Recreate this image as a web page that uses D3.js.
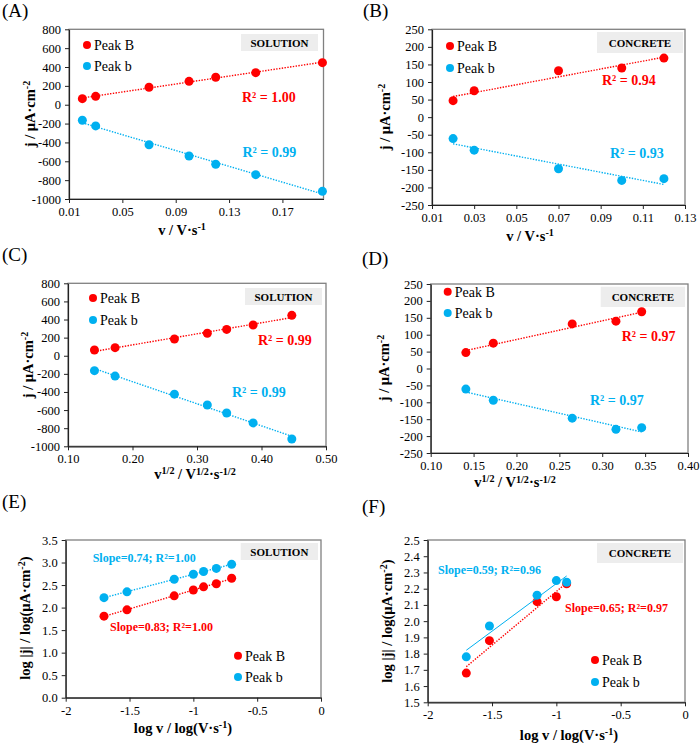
<!DOCTYPE html>
<html><head><meta charset="utf-8">
<script src="https://cdn.jsdelivr.net/npm/d3@7"></script>
<style>body{margin:0;background:#fff}svg{display:block}svg text{font-family:"Liberation Serif",serif}</style>
</head><body>
<svg id="c" width="700" height="743"></svg>
<script>
// ---------- DATA ----------
const scanRateSolution = [0.02, 0.03, 0.07, 0.10, 0.12, 0.15, 0.20];
const scanRateConcrete = [0.02, 0.03, 0.07, 0.10, 0.12];
const sqrtRateSolution = [0.141, 0.173, 0.265, 0.316, 0.346, 0.387, 0.447];
const sqrtRateConcrete = [0.141, 0.173, 0.265, 0.316, 0.346];
const logRateSolution = [-1.70, -1.52, -1.15, -1.00, -0.92, -0.82, -0.70];
const logRateConcrete = [-1.70, -1.52, -1.15, -1.00, -0.92];
const jSolutionPeakB = [64, 89, 185, 248, 291, 340, 446];
const jSolutionPeakb = [-165, -225, -424, -544, -632, -742, -919];
const jConcretePeakB = [47, 75, 132, 140, 168];
const jConcretePeakb = [-61, -94, -147, -180, -175];
const logJSolutionPeakB = [1.81, 1.95, 2.26, 2.39, 2.46, 2.53, 2.65];
const logJSolutionPeakb = [2.22, 2.35, 2.63, 2.74, 2.80, 2.87, 2.96];
const logJConcretePeakB = [1.68, 1.88, 2.12, 2.15, 2.23];
const logJConcretePeakb = [1.78, 1.97, 2.16, 2.25, 2.24];
const seriesNames = ["Peak B", "Peak b"];
const ticksA_x = [0.01, 0.05, 0.09, 0.13, 0.17];
const ticksB_x = [0.01, 0.03, 0.05, 0.07, 0.09, 0.11, 0.13];
const ticksC_x = [0.10, 0.20, 0.30, 0.40, 0.50];
const ticksD_x = [0.10, 0.15, 0.20, 0.25, 0.30, 0.35, 0.40];
const ticksEF_x = [-2, -1.5, -1, -0.5, 0];
const ticksSol_y = [-1000, -800, -600, -400, -200, 0, 200, 400, 600, 800];
const ticksCon_y = [-250, -200, -150, -100, -50, 0, 50, 100, 150, 200, 250];
const ticksE_y = [0, 0.5, 1, 1.5, 2, 2.5, 3, 3.5];
const ticksF_y = [1.5, 1.6, 1.7, 1.8, 1.9, 2.0, 2.1, 2.2, 2.3, 2.4, 2.5];

// ---------- STYLE ----------
const RED = "#FF0000", BLUE = "#00B0F0";
const FONT = "Liberation Serif";
const svg = d3.select("#c");

const hy = s => s.replace("\u2212", "-");
const fmtInt = v => hy(d3.format("d")(v));
const fmt1 = v => hy(d3.format(".1f")(v));
const fmt2 = v => hy(d3.format(".2f")(v));
const fmtG = v => hy(String(v));

function rich(sel, parts) {
  let prevSup = false;
  parts.forEach(([t, k]) => {
    const ts = sel.append("tspan").text(t);
    if (k === "s" && !prevSup) { ts.attr("dy", "-0.45em").attr("font-size", "70%"); prevSup = true; }
    else if (k === "s") { ts.attr("font-size", "70%"); }
    else if (prevSup) { ts.attr("dy", "0.32em"); prevSup = false; }
  });
}

function linreg(xs, ys) {
  const mx = d3.mean(xs), my = d3.mean(ys);
  let sxy = 0, sxx = 0;
  xs.forEach((x, i) => { sxy += (x - mx) * (ys[i] - my); sxx += (x - mx) ** 2; });
  const b = sxy / sxx;
  return { b, a: my - b * mx };
}

function panel(cfg) {
  const g = svg.append("g");
  const x = d3.scaleLinear().domain(cfg.xDomain).range([cfg.left, cfg.right]);
  const y = d3.scaleLinear().domain(cfg.yDomain).range([cfg.bottom, cfg.top]);

  g.append("text").attr("x", cfg.lab[0]).attr("y", cfg.lab[1]).attr("font-size", 19).text(cfg.label);

  g.append("rect").attr("x", cfg.left).attr("y", cfg.top)
    .attr("width", cfg.right - cfg.left).attr("height", cfg.bottom - cfg.top)
    .attr("fill", "none").attr("stroke", "#808080").attr("stroke-width", 1.3);

  const ax = g.append("g").attr("transform", `translate(0,${cfg.bottom})`)
    .call(d3.axisBottom(x).tickValues(cfg.xTicks).tickSize(4).tickSizeOuter(0).tickPadding(4).tickFormat(cfg.xFmt));
  const ay = g.append("g").attr("transform", `translate(${cfg.left},0)`)
    .call(d3.axisLeft(y).tickValues(cfg.yTicks).tickSize(4).tickSizeOuter(0).tickPadding(4).tickFormat(cfg.yFmt));
  [ax, ay].forEach(a => {
    a.attr("font-family", FONT);
    a.selectAll("path.domain").attr("stroke", "#222").attr("stroke-width", 1.2);
    a.selectAll(".tick line").attr("stroke", "#222");
    a.selectAll("text").attr("font-size", 12.5).attr("fill", "#000");
  });

  g.append("rect").attr("x", cfg.box[0]).attr("y", cfg.box[1]).attr("width", cfg.box[2]).attr("height", cfg.box[3])
    .attr("fill", "#EDEDED");
  g.append("text").attr("x", cfg.box[0] + cfg.box[2] / 2).attr("y", cfg.box[1] + cfg.box[3] / 2 + 4)
    .attr("text-anchor", "middle").attr("font-weight", "bold").attr("font-size", 11).text(cfg.boxText);

  const colors = [RED, BLUE];
  cfg.series.forEach((ys, si) => {
    const xs = cfg.xs;
    const r = linreg(xs, ys);
    const x0 = d3.min(xs), x1 = d3.max(xs);
    const ln = g.append("line")
      .attr("x1", x(x0)).attr("y1", y(r.a + r.b * x0))
      .attr("x2", x(x1)).attr("y2", y(r.a + r.b * x1))
      .attr("stroke", colors[si]).attr("stroke-width", 1.4);
    if (!(cfg.solidBlue && si === 1)) ln.attr("stroke-dasharray", "1.4,1.4");
    else ln.attr("stroke-width", 1);
    g.selectAll(null).data(xs.map((v, i) => [v, ys[i]])).enter().append("circle")
      .attr("cx", d => x(d[0])).attr("cy", d => y(d[1])).attr("r", 4.5).attr("fill", colors[si]);
    const an = cfg.ann[si];
    g.append("text").attr("x", an[0]).attr("y", an[1] + 5).attr("font-weight", "bold")
      .attr("font-size", an[3] || 14).attr("fill", colors[si]).text(an[2]);
  });

  seriesNames.forEach((n, i) => {
    const [lx, ly] = cfg.leg[i];
    g.append("circle").attr("cx", lx).attr("cy", ly).attr("r", 4).attr("fill", colors[i]);
    g.append("text").attr("x", lx + 7).attr("y", ly + 5).attr("font-size", 14).text(n);
  });

  const yt = g.append("text").attr("transform", `translate(${cfg.yTitle[0]},${cfg.yTitle[1]}) rotate(-90)`)
    .attr("text-anchor", "middle").attr("font-weight", "bold").attr("font-size", 14.5);
  rich(yt, cfg.yTitleParts);
  const xt = g.append("text").attr("x", cfg.xTitle[0]).attr("y", cfg.xTitle[1])
    .attr("text-anchor", "middle").attr("font-weight", "bold").attr("font-size", 14.5);
  rich(xt, cfg.xTitleParts);
}

const jTitle = [["j / \u03BCA\u00B7cm", "n"], ["-2", "s"]];
const logJTitle = [["log |j| / log(\u03BCA\u00B7cm", "n"], ["-2", "s"], [")", "n"]];
const vTitle = [["v / V\u00B7s", "n"], ["-1", "s"]];
const sqrtTitle = [["v", "n"], ["1/2", "s"], [" / V", "n"], ["1/2", "s"], ["\u00B7s", "n"], ["-1/2", "s"]];
const logVTitle = [["log v / log(V\u00B7s", "n"], ["-1", "s"], [")", "n"]];

panel({ label: "(A)", lab: [2, 17], left: 69, right: 323.5, top: 29.3, bottom: 199,
  xDomain: [0.01, 0.2008], yDomain: [-1000, 800], xTicks: ticksA_x, yTicks: ticksSol_y, xFmt: fmt2, yFmt: fmtInt,
  xs: scanRateSolution, series: [jSolutionPeakB, jSolutionPeakb],
  box: [241, 34, 77, 17], boxText: "SOLUTION",
  ann: [[242, 97, "R\u00B2 = 1.00"], [242.5, 152, "R\u00B2 = 0.99"]],
  leg: [[87, 45], [87, 66]], yTitle: [35, 114], yTitleParts: jTitle, xTitle: [182, 235], xTitleParts: vTitle });

panel({ label: "(B)", lab: [363, 17], left: 432, right: 685, top: 29.3, bottom: 205,
  xDomain: [0.01, 0.13], yDomain: [-250, 250], xTicks: ticksB_x, yTicks: ticksCon_y, xFmt: fmt2, yFmt: fmtInt,
  xs: scanRateConcrete, series: [jConcretePeakB, jConcretePeakb],
  box: [597, 32, 86, 21], boxText: "CONCRETE",
  ann: [[602, 80, "R\u00B2 = 0.94"], [610, 153, "R\u00B2 = 0.93"]],
  leg: [[450, 46], [450, 68]], yTitle: [390, 117], yTitleParts: jTitle, xTitle: [530, 241], xTitleParts: vTitle });

panel({ label: "(C)", lab: [2, 261], left: 68, right: 326, top: 283.3, bottom: 446.3,
  xDomain: [0.10, 0.50], yDomain: [-1000, 800], xTicks: ticksC_x, yTicks: ticksSol_y, xFmt: fmt2, yFmt: fmtInt,
  xs: sqrtRateSolution, series: [jSolutionPeakB, jSolutionPeakb],
  box: [245, 288, 77, 17], boxText: "SOLUTION",
  ann: [[258, 340, "R\u00B2 = 0.99"], [232, 392, "R\u00B2 = 0.99"]],
  leg: [[93, 298], [93, 320]], yTitle: [33, 365], yTitleParts: jTitle, xTitle: [195, 479], xTitleParts: sqrtTitle });

panel({ label: "(D)", lab: [362, 265], left: 430.7, right: 688, top: 284, bottom: 453,
  xDomain: [0.10, 0.40], yDomain: [-250, 250], xTicks: ticksD_x, yTicks: ticksCon_y, xFmt: fmt2, yFmt: fmtInt,
  xs: sqrtRateConcrete, series: [jConcretePeakB, jConcretePeakb],
  box: [600.7, 286.7, 84.3, 20.3], boxText: "CONCRETE",
  ann: [[621.7, 335.7, "R\u00B2 = 0.97"], [590, 400, "R\u00B2 = 0.97"]],
  leg: [[447.7, 291.7], [447.7, 313]], yTitle: [389, 368], yTitleParts: jTitle, xTitle: [515, 487], xTitleParts: sqrtTitle });

panel({ label: "(E)", lab: [2, 508], left: 65.7, right: 321, top: 540, bottom: 697.7,
  xDomain: [-2, 0], yDomain: [0, 3.5], xTicks: ticksEF_x, yTicks: ticksE_y, xFmt: fmtG, yFmt: fmt1,
  xs: logRateSolution, series: [logJSolutionPeakB, logJSolutionPeakb],
  box: [240.7, 543, 77.3, 17], boxText: "SOLUTION",
  ann: [[110, 626, "Slope=0.83; R\u00B2=1.00", 12], [92.7, 557, "Slope=0.74; R\u00B2=1.00", 12]],
  leg: [[238, 655.7], [238, 677]], yTitle: [30, 618], yTitleParts: logJTitle, xTitle: [183, 733], xTitleParts: logVTitle });

panel({ label: "(F)", lab: [362, 513], left: 427.7, right: 685, top: 540, bottom: 702.3,
  xDomain: [-2, 0], yDomain: [1.5, 2.5], xTicks: ticksEF_x, yTicks: ticksF_y, xFmt: fmtG, yFmt: fmt1,
  xs: logRateConcrete, series: [logJConcretePeakB, logJConcretePeakb], solidBlue: true,
  box: [597, 543, 86, 20], boxText: "CONCRETE",
  ann: [[565, 607, "Slope=0.65; R\u00B2=0.97", 12], [438, 569, "Slope=0.59; R\u00B2=0.96", 12]],
  leg: [[595, 660], [595, 682]], yTitle: [392, 621], yTitleParts: logJTitle, xTitle: [569, 740], xTitleParts: logVTitle });
</script>
</body></html>
